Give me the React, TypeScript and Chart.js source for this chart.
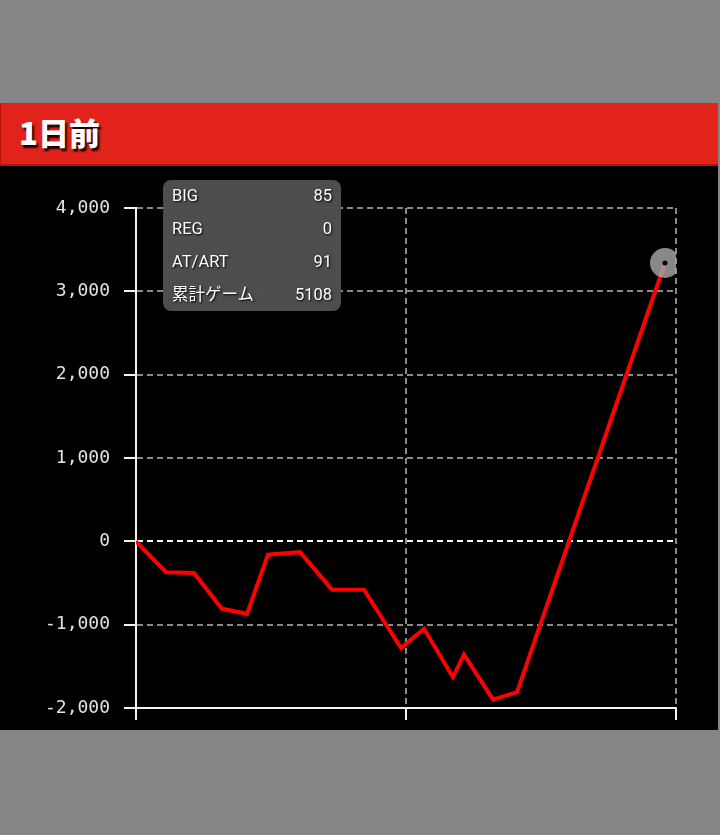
import React, { useEffect, useLayoutEffect, useRef } from "react";
import { Chart, registerables } from "chart.js";

Chart.register(...registerables);

// Data: cumulative games (x) vs. medal difference (y)
const gameCounts = [0, 278, 537, 796, 1028, 1222, 1519, 1815, 2111, 2454, 2667, 2935, 3037, 3306, 3528, 4898];
const diffValues = [0, -370, -380, -810, -870, -160, -130, -580, -580, -1280, -1050, -1630, -1360, -1900, -1810, 3340];

const yTickMin = -2000;
const yTickMax = 4000;
const yTickStep = 1000;
const xTickMin = 0;
const xTickMax = 5000;
const xTickStep = 2500;

const statLabels = ["BIG", "REG", "AT/ART", "累計ゲーム"];
const statValues = ["85", "0", "91", "5108"];

const headerTitle = "1日前";

export default function App() {
  const canvasRef = useRef<HTMLCanvasElement | null>(null);

  useLayoutEffect(() => {
    document.body.style.margin = "0";
    document.body.style.background = "#868686";
  }, []);

  useEffect(() => {
    const canvas = canvasRef.current;
    if (!canvas) return;
    const points = gameCounts.map((g, i) => ({ x: g, y: diffValues[i] }));
    const lastIdx = points.length - 1;
    const chart = new Chart(canvas, {
      type: "line",
      data: {
        datasets: [
          {
            data: [points[lastIdx]],
            showLine: false,
            pointRadius: 2.5,
            pointBackgroundColor: "#000",
            pointBorderWidth: 0,
            order: 0,
          },
          {
            data: points,
            borderColor: "#ff0000",
            borderWidth: 4,
            tension: 0,
            pointRadius: (ctx: any) => (ctx.dataIndex === lastIdx ? 15 : 0),
            pointBackgroundColor: "rgba(170,170,170,0.8)",
            pointBorderWidth: 0,
            pointHoverRadius: 0,
            fill: false,
            order: 1,
          },
        ],
      },
      options: {
        responsive: false,
        animation: false,
        devicePixelRatio: 1,
        layout: { padding: { top: 42, right: 42, left: 0, bottom: 0 } },
        plugins: {
          legend: { display: false },
          tooltip: { enabled: false },
        },
        events: [],
        scales: {
          x: {
            type: "linear",
            min: xTickMin,
            max: xTickMax,
            ticks: { stepSize: xTickStep, display: false },
            border: { display: true, color: "#f2f2f2", width: 2, dash: [6, 4] },
            grid: {
              color: (ctx: any) => (ctx.tick && ctx.tick.value === xTickMin ? "rgba(0,0,0,0)" : "#8a8a8a"),
              lineWidth: 2,
              tickColor: "#f2f2f2",
              tickLength: 12,
              tickWidth: 2,
              tickBorderDash: [],
              drawTicks: true,
            } as any,
            afterFit: (scale: any) => {
              scale.height = 58;
            },
          },
          y: {
            type: "linear",
            min: yTickMin,
            max: yTickMax,
            ticks: {
              stepSize: yTickStep,
              color: "#e2e2e2",
              padding: 14,
              font: { family: "'DejaVu Sans Mono', monospace", size: 18 },
              callback: (v: any) => Number(v).toLocaleString("en-US"),
            },
            border: { display: true, color: "#f2f2f2", width: 2, dash: [6, 4] },
            grid: {
              color: (ctx: any) => {
                const v = ctx.tick ? ctx.tick.value : null;
                if (v === yTickMin) return "rgba(0,0,0,0)";
                if (v === 0) return "#ffffff";
                return "#8a8a8a";
              },
              lineWidth: 2,
              tickColor: "#f2f2f2",
              tickLength: 12,
              tickWidth: 2,
              tickBorderDash: [],
            } as any,
            afterFit: (scale: any) => {
              scale.width = 136;
            },
          },
        },
      } as any,
    });
    return () => chart.destroy();
  }, []);

  return (
    <div
      style={{
        position: "relative",
        width: 720,
        height: 835,
        background: "#868686",
        overflow: "hidden",
      }}
    >
      <div
        style={{
          position: "absolute",
          left: 0,
          top: 103,
          width: 717,
          height: 61,
          background: "#e2231b",
          borderLeft: "1px solid #b8120c",
          borderBottom: "2px solid #b8120c",
        }}
      >
        <div
          style={{
            position: "absolute",
            left: 18,
            top: 10,
            fontFamily: "'Noto Sans CJK JP', 'Noto Sans', sans-serif",
            fontWeight: 900,
            fontSize: 31,
            lineHeight: "38px",
            color: "#ffffff",
            textShadow: "2px 3px 2px rgba(20,0,0,0.95)",
          }}
        >
          {headerTitle}
        </div>
      </div>
      <div
        style={{
          position: "absolute",
          left: 0,
          top: 166,
          width: 718,
          height: 564,
          background: "#000000",
          overflow: "hidden",
        }}
      >
        <canvas ref={canvasRef} width={718} height={600} style={{ display: "block", width: 718, height: 600 }} />
        <div
          style={{
            position: "absolute",
            left: 163,
            top: 14,
            width: 178,
            height: 131,
            background: "rgba(80,80,80,0.97)",
            borderRadius: 8,
            boxSizing: "border-box",
            padding: "3px 9px 0 9px",
            fontFamily: "Roboto, 'Noto Sans CJK JP', sans-serif",
            fontSize: 16.5,
            color: "#ffffff",
            textShadow: "1px 1px 2px #000",
          }}
        >
          {statLabels.map((lab, i) => (
            <div
              key={lab}
              style={{
                display: "flex",
                justifyContent: "space-between",
                height: 33,
                lineHeight: "26px",
              }}
            >
              <span>{lab}</span>
              <span>{statValues[i]}</span>
            </div>
          ))}
        </div>
      </div>
    </div>
  );
}
